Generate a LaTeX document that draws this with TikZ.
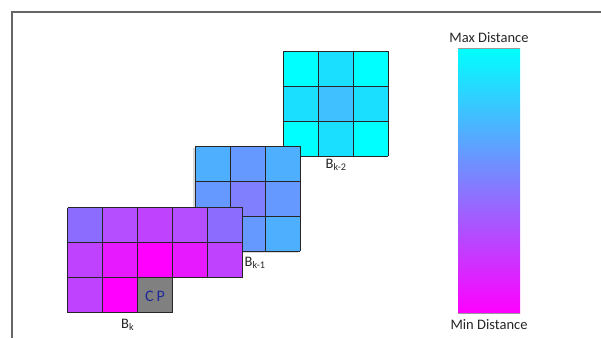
\documentclass[tikz,border=0pt]{standalone}
\usepackage{fontspec}
\setmainfont{Carlito}
\begin{document}
\begin{tikzpicture}[x=1pt,y=-1pt,
  cellbox/.style={draw=black!85,line width=0.9pt},
  lbl/.style={inner sep=0pt,font=\fontsize{14.5}{16}\selectfont,text=black!85},
  frameline/.style={draw=black!60,line width=1.2pt}]
\definecolor{cA}{HTML}{00FFFF}
\definecolor{cB}{HTML}{1ADFFF}
\definecolor{cC}{HTML}{40C0FF}
\definecolor{cD}{HTML}{4FAFFF}
\definecolor{cE}{HTML}{6699FF}
\definecolor{cF}{HTML}{8080FF}
\definecolor{cG}{HTML}{8C6CFF}
\definecolor{cH}{HTML}{B54EFF}
\definecolor{cI}{HTML}{BF42FF}
\definecolor{cJ}{HTML}{E619FF}
\definecolor{cK}{HTML}{FF00FF}
\definecolor{cpblue}{HTML}{1F2A99}
\useasboundingbox (0,0) rectangle (601,338);
% frame
\draw[frameline] (12,338) -- (12,12) -- (601,12);
% B_{k-2}
\foreach \c [count=\i from 0] in {cA,cB,cA,cB,cC,cB,cA,cB,cA}{
  \pgfmathtruncatemacro\col{mod(\i,3)}
  \pgfmathtruncatemacro\row{div(\i,3)}
  \fill[\c] (283+35*\col,51+35*\row) rectangle ++(35,35);
}
\foreach \k in {0,1,2,3}{
  \draw[cellbox] (283+35*\k,51) -- ++(0,105);
  \draw[cellbox] (283,51+35*\k) -- ++(105,0);
}
% B_{k-1}
\fill[black!15] (193,148) rectangle ++(105,105);
\foreach \c [count=\i from 0] in {cD,cE,cD,cE,cF,cE,cD,cE,cD}{
  \pgfmathtruncatemacro\col{mod(\i,3)}
  \pgfmathtruncatemacro\row{div(\i,3)}
  \fill[\c] (195+35*\col,146+35*\row) rectangle ++(35,35);
}
\foreach \k in {0,1,2,3}{
  \draw[cellbox] (195+35*\k,146) -- ++(0,105);
  \draw[cellbox] (195,146+35*\k) -- ++(105,0);
}
% B_k
\foreach \c [count=\i from 0] in {cG,cH,cI,cH,cG,cI,cJ,cK,cJ,cI}{
  \pgfmathtruncatemacro\col{mod(\i,5)}
  \pgfmathtruncatemacro\row{div(\i,5)}
  \fill[\c] (67.5+35*\col,207.5+35*\row) rectangle ++(35,35);
}
\fill[cI] (67.5,277.5) rectangle ++(35,35);
\fill[cK] (102.5,277.5) rectangle ++(35,35);
\fill[black!50] (137.5,277.5) rectangle ++(35,35);
\foreach \k in {0,1,2,3,4,5}{
  \draw[cellbox] (67.5+35*\k,207.5) -- ++(0,70);
}
\foreach \k in {0,1,2,3}{
  \draw[cellbox] (67.5+35*\k,277.5) -- ++(0,35);
}
\draw[cellbox] (67.5,207.5) -- ++(175,0);
\draw[cellbox] (67.5,242.5) -- ++(175,0);
\draw[cellbox] (67.5,277.5) -- ++(175,0);
\draw[cellbox] (67.5,312.5) -- ++(105,0);
\node[lbl,text=cpblue,font=\fontsize{16}{18}\selectfont] (cp) at (155,296) {C\hspace{3pt}P};
% labels
\node[lbl,anchor=west] (bk) at (121,324.5) {B\textsubscript{k}};
\node[lbl,anchor=west] (bk1) at (244.5,263) {B\textsubscript{k-1}};
\node[lbl,anchor=west] (bk2) at (325.5,165) {B\textsubscript{k-2}};
% colour bar
\shade[top color=cA,bottom color=cK] (458,48) rectangle (520,313);
\draw[black!40,line width=0.6pt] (458,48) -- (520,48);
\draw[black!40,line width=0.6pt] (458,313) -- (520,313);
\node[lbl] (maxd) at (489,38) {Max Distance};
\node[lbl] (mind) at (489,325) {Min Distance};
\end{tikzpicture}
\end{document}
